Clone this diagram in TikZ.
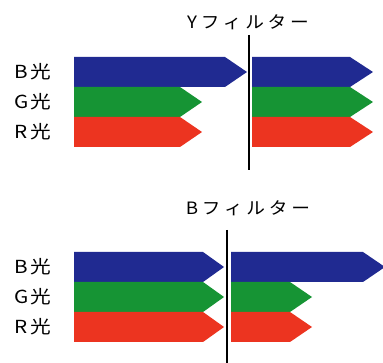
\documentclass[tikz,border=0pt]{standalone}
\usepackage{fontspec}
\setmainfont{Noto Sans CJK JP}
\newfontfamily\spacedjp[LetterSpace=20]{Noto Sans CJK JP}
\definecolor{lblue}{RGB}{32,42,145}
\definecolor{lgreen}{RGB}{22,148,52}
\definecolor{lred}{RGB}{236,52,32}

\begin{document}
\begin{tikzpicture}[x=1pt,y=-1pt,
    lightname/.style={font=\fontsize{18}{18}\selectfont,inner sep=0pt,xscale=1.15},
    filtername/.style={font=\spacedjp\fontsize{17}{17}\selectfont,inner sep=0pt,xscale=1.1},
    filterline/.style={line width=2.6pt,black}]
  \useasboundingbox (0,0) rectangle (383,363);
  \clip (0,0) rectangle (383,363);
  % upper: Y filter
  \fill[lblue] (74,57) -- (225,57) -- (247,72) -- (225,87) -- (74,87) -- cycle;
  \fill[lgreen] (74,87) -- (180,87) -- (202,102) -- (180,117) -- (74,117) -- cycle;
  \fill[lred] (74,117) -- (180,117) -- (202,132) -- (180,147) -- (74,147) -- cycle;
  \fill[lblue] (252,57) -- (350,57) -- (373,72) -- (350,87) -- (252,87) -- cycle;
  \fill[lgreen] (252,87) -- (350,87) -- (373,102) -- (350,117) -- (252,117) -- cycle;
  \fill[lred] (252,117) -- (350,117) -- (373,132) -- (350,147) -- (252,147) -- cycle;
  \coordinate (Yt) at (249,35);
  \coordinate (Yb) at (249,170);
  \draw[filterline] (Yt) -- (Yb);
  \node[filtername] (Yname) at (248,22) {Yフィルター};
  \node[lightname] (Bup) at (33,72) {B\kern2pt 光};
  \node[lightname] (Gup) at (33,102) {G\kern2pt 光};
  \node[lightname] (Rup) at (33,132) {R\kern2pt 光};
  % lower: B filter
  \fill[lblue] (74,252) -- (203,252) -- (224,267) -- (203,282) -- (74,282) -- cycle;
  \fill[lgreen] (74,282) -- (203,282) -- (224,297) -- (203,312) -- (74,312) -- cycle;
  \fill[lred] (74,312) -- (203,312) -- (224,327) -- (203,342) -- (74,342) -- cycle;
  \fill[lblue] (231,252) -- (363,252) -- (385,267) -- (363,282) -- (231,282) -- cycle;
  \fill[lgreen] (231,282) -- (290,282) -- (312,297) -- (290,312) -- (231,312) -- cycle;
  \fill[lred] (231,312) -- (290,312) -- (312,327) -- (290,342) -- (231,342) -- cycle;
  \coordinate (Bt) at (227,230);
  \coordinate (Bb) at (227,363);
  \draw[filterline] (Bt) -- (Bb);
  \node[filtername] (Bname) at (248,208) {Bフィルター};
  \node[lightname] (Blo) at (33,267) {B\kern2pt 光};
  \node[lightname] (Glo) at (33,297) {G\kern2pt 光};
  \node[lightname] (Rlo) at (33,327) {R\kern2pt 光};
\end{tikzpicture}
\end{document}
